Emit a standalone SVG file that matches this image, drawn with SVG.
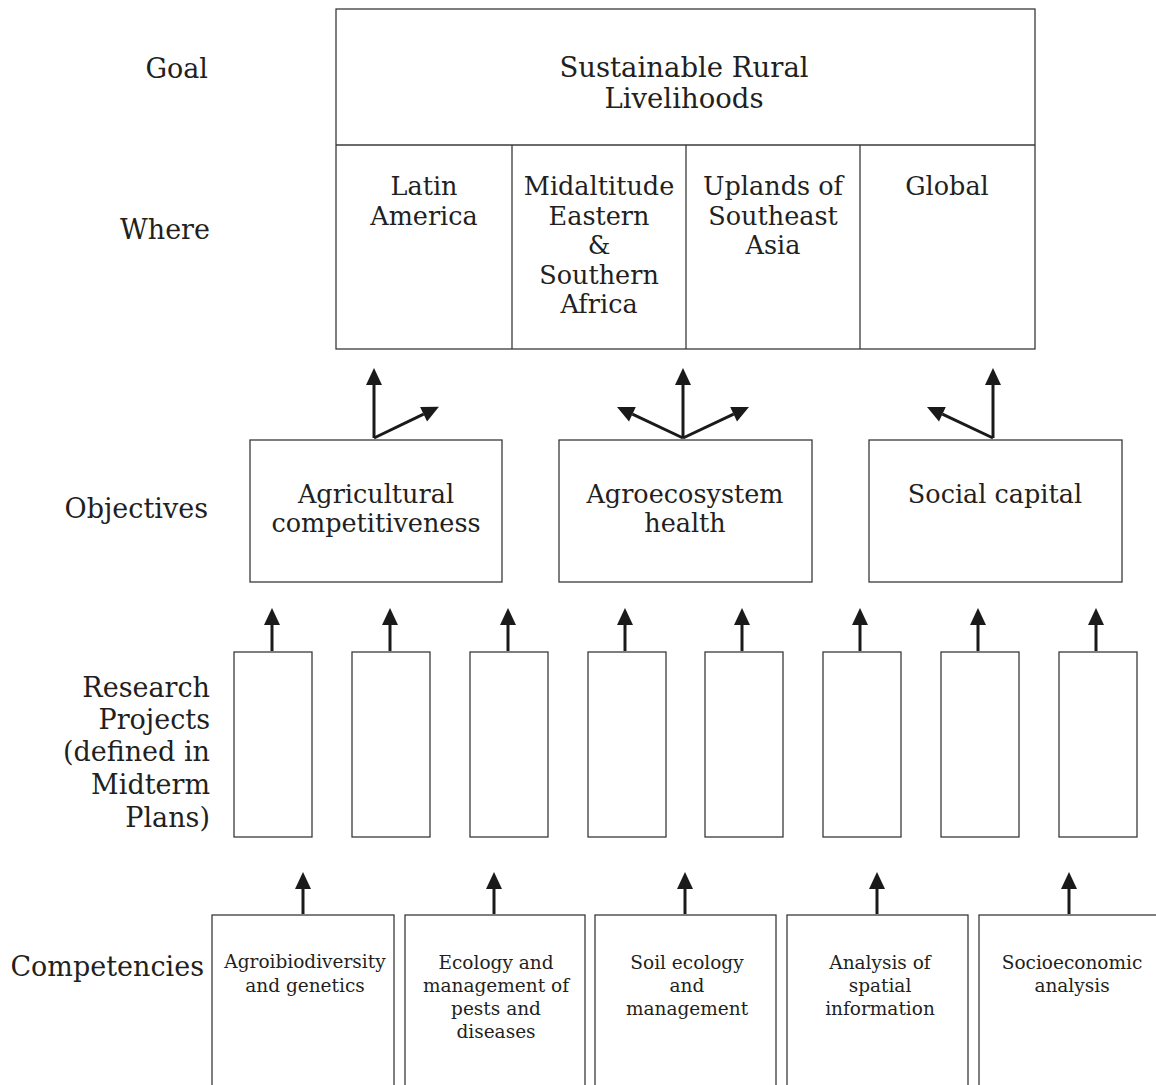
<svg xmlns="http://www.w3.org/2000/svg" width="1156" height="1085" viewBox="0 0 1156 1085">
<style>
text{font-family:"DejaVu Serif","Liberation Serif",serif;fill:#231f20}
.lbl{font-size:27px;text-anchor:end}
.big{font-size:25.5px;text-anchor:middle}
.goal{font-size:27.5px;text-anchor:middle}
.sm{font-size:18.5px;text-anchor:middle}
.box{fill:#fff;stroke:#3a3a3a;stroke-width:1.3}
.div{stroke:#3a3a3a;stroke-width:1.3;fill:none}
.arr{stroke:#1a1a1a;stroke-width:3;fill:none;marker-end:url(#ah)}
</style>
<defs>
<marker id="ah" markerUnits="userSpaceOnUse" markerWidth="17" markerHeight="16" refX="0" refY="8" orient="auto" overflow="visible">
<path d="M0,0 L17,8 L0,16 Z" fill="#1a1a1a"/>
</marker>
</defs>
<rect width="1156" height="1085" fill="#fff"/>
<g id="labels">
<text class="lbl" x="208" y="78">Goal</text>
<text class="lbl" x="210" y="239">Where</text>
<text class="lbl" x="208" y="518">Objectives</text>
<text class="lbl" x="210" y="697">Research</text>
<text class="lbl" x="210" y="729">Projects</text>
<text class="lbl" x="210" y="761">(defined in</text>
<text class="lbl" x="210" y="794">Midterm</text>
<text class="lbl" x="210" y="827">Plans)</text>
<text class="lbl" x="204" y="976">Competencies</text>
</g>
<g id="goal">
<rect class="box" x="336" y="9" width="699" height="340"/>
<line class="div" x1="336" y1="145" x2="1035" y2="145"/>
<line class="div" x1="512" y1="145" x2="512" y2="349"/>
<line class="div" x1="686" y1="145" x2="686" y2="349"/>
<line class="div" x1="860" y1="145" x2="860" y2="349"/>
<text class="goal" x="684" y="77">Sustainable Rural</text>
<text class="goal" x="684" y="108">Livelihoods</text>
</g>
<g id="where-latin-america">
<text class="big" x="424" y="195">Latin</text>
<text class="big" x="424" y="225">America</text>
</g>
<g id="where-africa">
<text class="big" x="599" y="195">Midaltitude</text>
<text class="big" x="599" y="225">Eastern</text>
<text class="big" x="599" y="254">&amp;</text>
<text class="big" x="599" y="284">Southern</text>
<text class="big" x="599" y="313">Africa</text>
</g>
<g id="where-asia">
<text class="big" x="773" y="195">Uplands of</text>
<text class="big" x="773" y="225">Southeast</text>
<text class="big" x="773" y="254">Asia</text>
</g>
<g id="where-global">
<text class="big" x="947" y="195">Global</text>
</g>
<g id="obj-agri">
<rect class="box" x="250" y="440" width="252" height="142"/>
<text class="big" x="376" y="503">Agricultural</text>
<text class="big" x="376" y="532">competitiveness</text>
</g>
<g id="obj-agroeco">
<rect class="box" x="559" y="440" width="253" height="142"/>
<text class="big" x="685" y="503">Agroecosystem</text>
<text class="big" x="685" y="532">health</text>
</g>
<g id="obj-social">
<rect class="box" x="869" y="440" width="253" height="142"/>
<text class="big" x="995" y="503">Social capital</text>
</g>
<g id="projects">
<rect id="proj1" class="box" x="234" y="652" width="78" height="185"/>
<rect id="proj2" class="box" x="352" y="652" width="78" height="185"/>
<rect id="proj3" class="box" x="470" y="652" width="78" height="185"/>
<rect id="proj4" class="box" x="588" y="652" width="78" height="185"/>
<rect id="proj5" class="box" x="705" y="652" width="78" height="185"/>
<rect id="proj6" class="box" x="823" y="652" width="78" height="185"/>
<rect id="proj7" class="box" x="941" y="652" width="78" height="185"/>
<rect id="proj8" class="box" x="1059" y="652" width="78" height="185"/>
</g>
<g id="comp-agrobio">
<rect class="box" x="212" y="915" width="182" height="200"/>
<text class="sm" x="305" y="968">Agroibiodiversity</text>
<text class="sm" x="305" y="992">and genetics</text>
</g>
<g id="comp-pests">
<rect class="box" x="405" y="915" width="180" height="200"/>
<text class="sm" x="496" y="969">Ecology and</text>
<text class="sm" x="496" y="992">management of</text>
<text class="sm" x="496" y="1015">pests and</text>
<text class="sm" x="496" y="1038">diseases</text>
</g>
<g id="comp-soil">
<rect class="box" x="595" y="915" width="181" height="200"/>
<text class="sm" x="687" y="969">Soil ecology</text>
<text class="sm" x="687" y="992">and</text>
<text class="sm" x="687" y="1015">management</text>
</g>
<g id="comp-spatial">
<rect class="box" x="787" y="915" width="181" height="200"/>
<text class="sm" x="880" y="969">Analysis of</text>
<text class="sm" x="880" y="992">spatial</text>
<text class="sm" x="880" y="1015">information</text>
</g>
<g id="comp-socio">
<rect class="box" x="979" y="915" width="220" height="200"/>
<text class="sm" x="1072" y="969">Socioeconomic</text>
<text class="sm" x="1072" y="992">analysis</text>
</g>
<g id="connectors">
<line class="arr" x1="374" y1="438" x2="374" y2="385"/>
<line class="arr" x1="374" y1="438" x2="423.6" y2="414.2"/>
<line class="arr" x1="683" y1="438" x2="683" y2="385"/>
<line class="arr" x1="683" y1="438" x2="632.4" y2="414.2"/>
<line class="arr" x1="683" y1="438" x2="733.6" y2="414.2"/>
<line class="arr" x1="993" y1="438" x2="993" y2="385"/>
<line class="arr" x1="993" y1="438" x2="942.4" y2="414.2"/>
<line class="arr" x1="272" y1="651" x2="272" y2="625"/>
<line class="arr" x1="390" y1="651" x2="390" y2="625"/>
<line class="arr" x1="508" y1="651" x2="508" y2="625"/>
<line class="arr" x1="625" y1="651" x2="625" y2="625"/>
<line class="arr" x1="742" y1="651" x2="742" y2="625"/>
<line class="arr" x1="860" y1="651" x2="860" y2="625"/>
<line class="arr" x1="978" y1="651" x2="978" y2="625"/>
<line class="arr" x1="1096" y1="651" x2="1096" y2="625"/>
<line class="arr" x1="303" y1="914" x2="303" y2="889"/>
<line class="arr" x1="494" y1="914" x2="494" y2="889"/>
<line class="arr" x1="685" y1="914" x2="685" y2="889"/>
<line class="arr" x1="877" y1="914" x2="877" y2="889"/>
<line class="arr" x1="1069" y1="914" x2="1069" y2="889"/>
</g>
</svg>
